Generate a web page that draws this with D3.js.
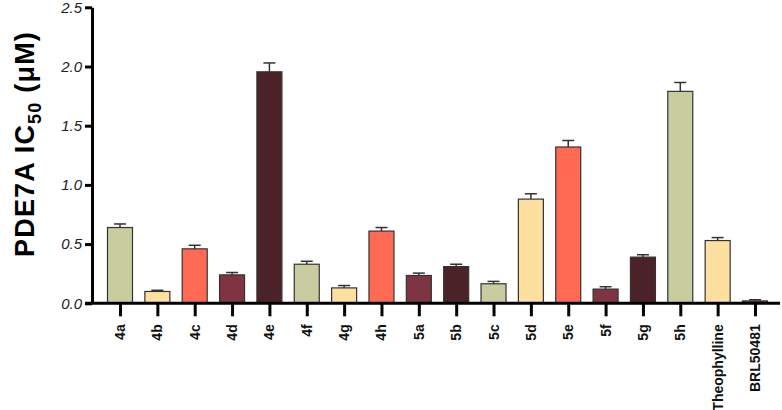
<!DOCTYPE html>
<html>
<head>
<meta charset="utf-8">
<script src="https://cdn.jsdelivr.net/npm/d3@7"></script>
<style>
  html, body { margin: 0; padding: 0; background: #fff; }
  svg { display: block; }
</style>
</head>
<body>
<svg id="chart" width="782" height="410"></svg>
<script>
const categories = ["4a","4b","4c","4d","4e","4f","4g","4h","5a","5b","5c","5d","5e","5f","5g","5h","Theophylline","BRL50481"];
const values = [0.64,0.10,0.46,0.24,1.955,0.33,0.13,0.61,0.235,0.31,0.165,0.88,1.32,0.12,0.39,1.79,0.53,0.02];
const errors = [0.03,0.01,0.03,0.02,0.075,0.025,0.02,0.03,0.02,0.02,0.02,0.045,0.055,0.02,0.02,0.075,0.025,0.01];
const colorGroups = ["sage","yellow","coral","maroon","dark","sage","yellow","coral","maroon","dark","sage","yellow","coral","maroon","dark","sage","yellow","red"];
const yTicks = [0.0,0.5,1.0,1.5,2.0,2.5];

const palette = {sage:"#c9cc9f", yellow:"#fde09f", coral:"#ff6a55", maroon:"#7e3443", dark:"#4b2228", red:"#9c3a40"};

const svg = d3.select("#chart");
const x = d3.scalePoint().domain(categories).range([120, 755]).padding(0);
const y = d3.scaleLinear().domain([0, 2.5]).range([303.3, 7.3]);
const barW = 25;

// bars
svg.append("g").selectAll("rect").data(categories).join("rect")
  .attr("x", d => x(d) - barW/2)
  .attr("y", (d,i) => y(values[i]))
  .attr("width", barW)
  .attr("height", (d,i) => y(0) - y(values[i]))
  .attr("fill", (d,i) => palette[colorGroups[i]])
  .attr("stroke", "#333")
  .attr("stroke-width", 1.2);

// error bars (upper only)
const eg = svg.append("g").attr("stroke", "#333").attr("stroke-width", 1.5);
categories.forEach((d,i) => {
  eg.append("line").attr("x1", x(d)).attr("x2", x(d))
    .attr("y1", y(values[i])).attr("y2", y(values[i] + errors[i]));
  eg.append("line").attr("x1", x(d) - 6).attr("x2", x(d) + 6)
    .attr("y1", y(values[i] + errors[i])).attr("y2", y(values[i] + errors[i]));
});

// y axis
const yAxis = d3.axisLeft(y).tickValues(yTicks).tickFormat(d3.format(".1f")).tickSize(7).tickSizeOuter(0);
const yg = svg.append("g").attr("transform", "translate(92,0)").call(yAxis);
yg.select(".domain").attr("stroke", "#000").attr("stroke-width", 3);
yg.selectAll(".tick line").attr("stroke", "#000").attr("stroke-width", 3);
yg.selectAll(".tick text")
  .attr("x", -10)
  .attr("font-family", "Liberation Sans, Arial, sans-serif")
  .attr("font-style", "italic")
  .attr("font-size", 15)
  .attr("fill", "#222");

// x axis
const xAxis = d3.axisBottom(x).tickSize(13).tickSizeOuter(0).tickFormat("");
const xg = svg.append("g").attr("transform", "translate(0,303.3)").call(xAxis);
xg.select(".domain").remove();
xg.append("line").attr("x1", 85).attr("x2", 780).attr("y1", 0).attr("y2", 0)
  .attr("stroke", "#000").attr("stroke-width", 3);
xg.selectAll(".tick line").attr("stroke", "#000").attr("stroke-width", 3);
xg.selectAll(".tick text").remove();

// category labels (vertical)
svg.append("g").selectAll("text").data(categories).join("text")
  .attr("transform", d => `translate(${x(d) + 5},${303.3 + 21}) rotate(-90)`)
  .attr("text-anchor", "end")
  .attr("font-family", "Liberation Sans, Arial, sans-serif")
  .attr("font-weight", "bold")
  .attr("font-size", 14)
  .attr("fill", "#111")
  .text(d => d);

// y title
const title = svg.append("text")
  .attr("transform", "translate(34,144) rotate(-90)")
  .attr("text-anchor", "middle")
  .attr("font-family", "Liberation Sans, Arial, sans-serif")
  .attr("font-weight", "bold")
  .attr("font-size", 27)
  .attr("letter-spacing", 1.2)
  .attr("fill", "#000");
title.append("tspan").text("PDE7A IC");
title.append("tspan").attr("font-size", 18).attr("dy", 7).text("50");
title.append("tspan").attr("dy", -7).text(" (μM)");
</script>
</body>
</html>
